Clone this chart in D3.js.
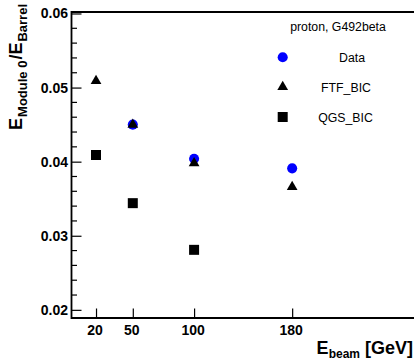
<!DOCTYPE html>
<html><head><meta charset="utf-8">
<script src="https://cdn.jsdelivr.net/npm/d3@7"></script>
<style>body{margin:0;background:#fff}svg{display:block}text{font-family:"Liberation Sans",Arial,sans-serif}</style>
</head><body>
<svg id="c" width="414" height="361"></svg>
<script>
const energies = [20, 50, 100, 180];
const dataVals = [null, 0.0450, 0.0404, 0.0391];
const ftfVals = [0.0509, 0.0450, 0.0398, 0.0366];
const qgsVals = [0.0409, 0.0344, 0.0281, null];
const yMajorTicks = [0.02, 0.03, 0.04, 0.05, 0.06];
const xTicks = [20, 50, 100, 180];
const legendTitle = "proton, G492beta";
const legendLabels = ["Data", "FTF_BIC", "QGS_BIC"];

const svg = d3.select("#c");
const L = 71.5, R = 414, T = 12, B = 318;
const x = d3.scaleLinear().domain([0, 278]).range([L, 412.3]);
const y = d3.scaleLinear().domain([0.0189, 0.0602]).range([B, T]);

// frame
svg.append("line").attr("x1", L).attr("x2", R).attr("y1", T).attr("y2", T).attr("stroke", "#000").attr("stroke-width", 1.8);

// y axis
const yAx = d3.axisRight(y).tickValues(yMajorTicks).tickSize(10).tickFormat("");
const yg = svg.append("g").attr("transform", `translate(${L},0)`).call(yAx);
const minorY = d3.range(0.020, 0.0601, 0.002).filter(v => !yMajorTicks.some(m => Math.abs(m - v) < 1e-6));
yg.selectAll(".minor").data(minorY).enter().append("line")
  .attr("x1", 0).attr("x2", 5.5).attr("y1", d => y(d)).attr("y2", d => y(d));
yg.select(".domain").remove();
yg.selectAll("line").attr("stroke", "#000").attr("stroke-width", 1.2);
svg.append("line").attr("x1", L).attr("x2", L).attr("y1", T - 0.9).attr("y2", B + 0.9).attr("stroke", "#000").attr("stroke-width", 1.8);
svg.selectAll(".ylab").data(yMajorTicks).enter().append("text")
  .attr("x", L - 3.5).attr("y", d => y(d) + 5).attr("text-anchor", "end")
  .attr("font-size", 14).attr("font-weight", "bold").text(d => d3.format(".2f")(d));

// x axis
const xAx = d3.axisTop(x).tickValues(xTicks).tickSize(9.5).tickFormat("");
const xg = svg.append("g").attr("transform", `translate(0,${B})`).call(xAx);
xg.select(".domain").remove();
xg.selectAll("line").attr("stroke", "#000").attr("stroke-width", 1.2);
svg.append("line").attr("x1", L).attr("x2", R).attr("y1", B).attr("y2", B).attr("stroke", "#000").attr("stroke-width", 1.8);
svg.selectAll(".xlab").data(xTicks).enter().append("text")
  .attr("x", d => x(d) - 1).attr("y", 335).attr("text-anchor", "middle")
  .attr("font-size", 14).attr("font-weight", "bold").text(d => d);

// axis titles
const xt = svg.append("text").attr("x", 413).attr("y", 354).attr("text-anchor", "end")
  .attr("font-weight", "bold").attr("font-size", 18);
xt.append("tspan").text("E");
xt.append("tspan").attr("font-size", 12).attr("dy", 4).text("beam");
xt.append("tspan").attr("dy", -4).text(" [GeV]");

const yt = svg.append("text").attr("transform", "translate(22,4) rotate(-90)").attr("text-anchor", "end")
  .attr("font-weight", "bold").attr("font-size", 18);
yt.append("tspan").text("E");
yt.append("tspan").attr("font-size", 13).attr("dy", 5).attr("dx", 1).text("Module 0");
yt.append("tspan").attr("dy", -5).attr("dx", 1).text("/E");
yt.append("tspan").attr("font-size", 13).attr("dy", 5).attr("dx", 1).text("Barrel");

// markers
const circ = d3.symbol().type(d3.symbolCircle).size(80);
const tri = d3.symbol().type(d3.symbolTriangle).size(50);
const sq = d3.symbol().type(d3.symbolSquare).size(100);
function series(vals, sym, fill) {
  svg.append("g").selectAll("path").data(energies.map((e, i) => [e, vals[i]]).filter(d => d[1] != null))
    .enter().append("path").attr("d", sym).attr("fill", fill)
    .attr("transform", d => `translate(${x(d[0])},${y(d[1])})`);
}
series(qgsVals, sq, "#000");
series(dataVals, circ, "#0000ff");
series(ftfVals, tri, "#000");

// legend
svg.append("text").attr("x", 338).attr("y", 31).attr("text-anchor", "middle").attr("font-size", 12.3).text(legendTitle);
const ly = [57.3, 87, 117];
const lsym = [circ, tri, sq];
const lcol = ["#0000ff", "#000", "#000"];
const lx = [352, 346, 345.5];
legendLabels.forEach((lab, i) => {
  svg.append("path").attr("d", lsym[i]).attr("fill", lcol[i]).attr("transform", `translate(282.7,${ly[i]})`);
  svg.append("text").attr("x", lx[i]).attr("y", ly[i] + 4.5).attr("text-anchor", "middle").attr("font-size", 12.3).text(lab);
});
</script>
</body></html>
